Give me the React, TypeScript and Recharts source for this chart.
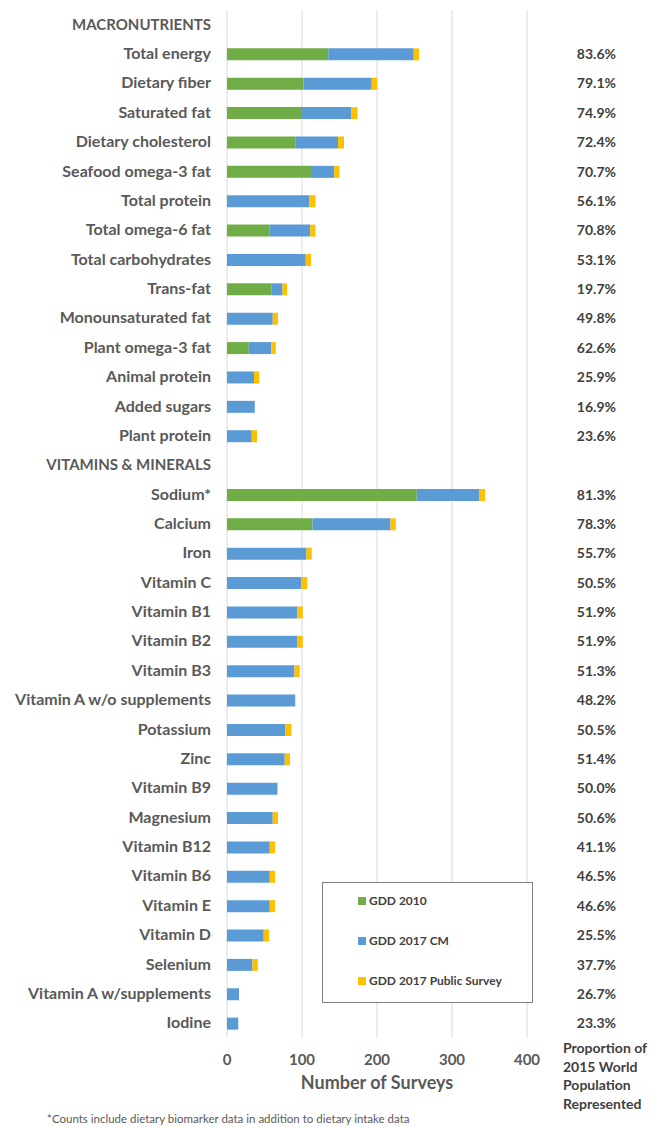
import React from 'react';
import {
  BarChart,
  Bar,
  XAxis,
  YAxis,
  CartesianGrid,
  Legend,
  Label
} from 'recharts';

const categories = [
  'MACRONUTRIENTS',
  'Total energy',
  'Dietary fiber',
  'Saturated fat',
  'Dietary cholesterol',
  'Seafood omega-3 fat',
  'Total protein',
  'Total omega-6 fat',
  'Total carbohydrates',
  'Trans-fat',
  'Monounsaturated fat',
  'Plant omega-3 fat',
  'Animal protein',
  'Added sugars',
  'Plant protein',
  'VITAMINS & MINERALS',
  'Sodium*',
  'Calcium',
  'Iron',
  'Vitamin C',
  'Vitamin B1',
  'Vitamin B2',
  'Vitamin B3',
  'Vitamin A w/o supplements',
  'Potassium',
  'Zinc',
  'Vitamin B9',
  'Magnesium',
  'Vitamin B12',
  'Vitamin B6',
  'Vitamin E',
  'Vitamin D',
  'Selenium',
  'Vitamin A w/supplements',
  'Iodine'
];

const headers = ['MACRONUTRIENTS', 'VITAMINS & MINERALS'];

const gdd2010 = [
  null, 135, 102, 100, 91, 112, 0, 57, 0, 59, 0, 29, 0, 0, 0,
  null, 253, 114, 0, 0, 0, 0, 0, 0, 0, 0, 0, 0, 0, 0, 0, 0, 0, 0, 0
];

const gdd2017Cm = [
  null, 114, 91, 66, 57, 31, 110, 54, 105, 15, 61, 30, 36, 37, 33,
  null, 83, 104, 106, 99, 94, 94, 90, 91, 78, 77, 67, 61, 57, 57, 57, 49, 34, 16, 15
];

const gdd2017Public = [
  null, 7, 7, 8, 8, 7, 8, 7, 7, 6, 7, 6, 7, 0, 7,
  null, 8, 7, 7, 8, 7, 7, 7, 0, 8, 7, 1, 7, 7, 7, 7, 7, 7, 0, 0
];

const proportions = [
  '', '83.6%', '79.1%', '74.9%', '72.4%', '70.7%', '56.1%', '70.8%', '53.1%', '19.7%',
  '49.8%', '62.6%', '25.9%', '16.9%', '23.6%',
  '', '81.3%', '78.3%', '55.7%', '50.5%', '51.9%', '51.9%', '51.3%', '48.2%', '50.5%',
  '51.4%', '50.0%', '50.6%', '41.1%', '46.5%', '46.6%', '25.5%', '37.7%', '26.7%', '23.3%'
];

const xTicks = [0, 100, 200, 300, 400];

const data = categories.map((name, i) => ({
  name,
  g2010: gdd2010[i],
  cm2017: gdd2017Cm[i],
  ps2017: gdd2017Public[i],
  pct: proportions[i]
}));

const pctByName: Record<string, string> = {};
data.forEach((d) => {
  pctByName[d.name] = d.pct;
});

const FONT = 'Lato, "Liberation Sans", sans-serif';

const CategoryTick = (props: any) => {
  const { x, y, payload } = props;
  const isHeader = headers.includes(payload.value);
  return (
    <text
      x={x}
      y={y}
      dy={5}
      textAnchor="end"
      fontFamily={FONT}
      fontWeight="bold"
      fontSize={isHeader ? 15 : 16}
      fill="#595959"
    >
      {payload.value}
    </text>
  );
};

const PctTick = (props: any) => {
  const { x, y, payload } = props;
  const pct = pctByName[payload.value];
  if (!pct) return null;
  return (
    <text
      x={x + 89}
      y={y}
      dy={5}
      textAnchor="end"
      fontFamily={FONT}
      fontWeight="bold"
      fontSize={14}
      fill="#404040"
    >
      {pct}
    </text>
  );
};

const ValueTick = (props: any) => {
  const { x, y, payload } = props;
  return (
    <text
      x={x}
      y={y}
      dy={19}
      textAnchor="middle"
      fontFamily={FONT}
      fontWeight="bold"
      fontSize={15}
      fill="#595959"
    >
      {payload.value}
    </text>
  );
};

// legend box is drawn by the content itself so the wrapper takes no room
const renderLegend = (props: any) => {
  const { payload } = props;
  return (
    <div
      style={{
        position: 'absolute',
        left: 0,
        top: 0,
        width: 211,
        height: 121,
        border: '1px solid #7F7F7F',
        boxSizing: 'border-box',
        background: '#fff'
      }}
    >
      {payload.map((entry: any, i: number) => (
        <div
          key={entry.value}
          style={{
            position: 'absolute',
            left: 35,
            top: 10 + i * 40,
            display: 'flex',
            alignItems: 'center',
            fontFamily: FONT,
            fontWeight: 'bold',
            fontSize: 12,
            color: '#404040',
            whiteSpace: 'nowrap'
          }}
        >
          <span
            style={{
              display: 'inline-block',
              width: 8,
              height: 8,
              background: entry.color,
              marginRight: 3
            }}
          />
          {entry.value}
        </div>
      ))}
    </div>
  );
};

export default function App() {
  return (
    <div
      style={{
        position: 'absolute',
        left: 0,
        top: 0,
        width: 653,
        height: 1127,
        background: '#fff'
      }}
    >
      <BarChart
        width={653}
        height={1127}
        data={data}
        layout="vertical"
        margin={{ top: 10, right: 0, left: 0, bottom: 0 }}
        barCategoryGap={0}
      >
        <CartesianGrid horizontal={false} stroke="#D9D9D9" strokeWidth={1} />
        <XAxis
          type="number"
          domain={[0, 400]}
          ticks={xTicks}
          axisLine={false}
          tickLine={false}
          height={89}
          tick={<ValueTick />}
        >
          <Label
            value="Number of Surveys"
            position="insideBottom"
            offset={38}
            style={{
              fontFamily: FONT,
              fontWeight: 'bold',
              fontSize: 18,
              fill: '#595959'
            }}
          />
        </XAxis>
        <YAxis
          type="category"
          dataKey="name"
          width={227}
          axisLine={false}
          tickLine={false}
          tickSize={0}
          tickMargin={16}
          interval={0}
          tick={<CategoryTick />}
        />
        <YAxis
          yAxisId="right"
          orientation="right"
          type="category"
          dataKey="name"
          width={126}
          axisLine={false}
          tickLine={false}
          tickSize={0}
          tickMargin={0}
          interval={0}
          tick={<PctTick />}
        />
        <Legend
          layout="vertical"
          content={renderLegend}
          wrapperStyle={{
            position: 'absolute',
            left: 322,
            top: 882,
            width: 0,
            height: 0,
            overflow: 'visible'
          }}
        />
        <Bar
          dataKey="g2010"
          name="GDD 2010"
          stackId="a"
          fill="#70AD47"
          barSize={12}
          isAnimationActive={false}
        />
        <Bar
          dataKey="cm2017"
          name="GDD 2017 CM"
          stackId="a"
          fill="#5B9BD5"
          barSize={12}
          isAnimationActive={false}
        />
        <Bar
          dataKey="ps2017"
          name="GDD 2017 Public Survey"
          stackId="a"
          fill="#FFC000"
          barSize={12}
          isAnimationActive={false}
        />
      </BarChart>
      <div
        style={{
          position: 'absolute',
          left: 563,
          top: 1039,
          fontFamily: FONT,
          fontWeight: 'bold',
          fontSize: 14,
          lineHeight: '18.7px',
          color: '#404040'
        }}
      >
        Proportion of
        <br />
        2015 World
        <br />
        Population
        <br />
        Represented
      </div>
      <div
        style={{
          position: 'absolute',
          left: 47,
          top: 1112,
          fontFamily: FONT,
          fontSize: 11.5,
          color: '#595959',
          whiteSpace: 'nowrap'
        }}
      >
        *Counts include dietary biomarker data in addition to dietary intake data
      </div>
    </div>
  );
}
